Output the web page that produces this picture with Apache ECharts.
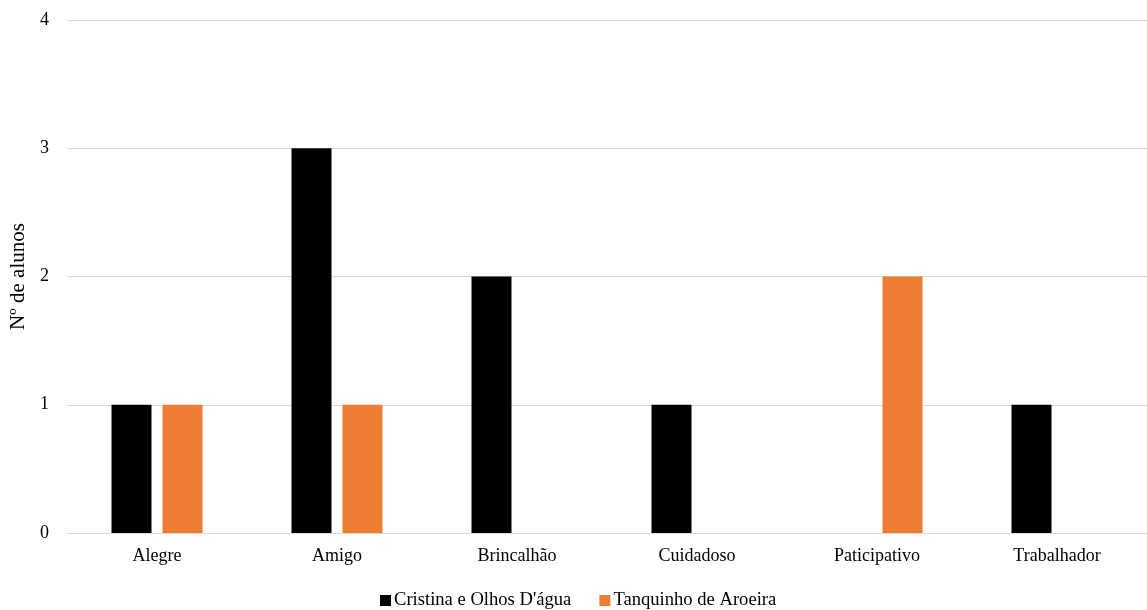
<!DOCTYPE html>
<html>
<head>
<meta charset="utf-8">
<style>
  html, body { margin: 0; padding: 0; background: #fff; }
  #chart { width: 1147px; height: 610px; }
</style>
<script src="https://cdn.jsdelivr.net/npm/echarts@6/dist/echarts.min.js"></script>
</head>
<body>
<div id="chart"></div>
<script>
// Characteristics named by the students, per school
const categories = ['Alegre', 'Amigo', 'Brincalhão', 'Cuidadoso', 'Paticipativo', 'Trabalhador'];
const cristinaOlhos = [1, 3, 2, 1, 0, 1];
const tanquinhoAroeira = [1, 1, 0, 0, 2, 0];
const seriesNames = ['Cristina e Olhos D\'água', 'Tanquinho de Aroeira'];

const FONT = '"Liberation Serif", "Times New Roman", serif';

const chart = echarts.init(document.getElementById('chart'));
chart.setOption({
  animation: false,
  textStyle: { fontFamily: FONT, color: '#000' },
  grid: { left: 67, right: 0, top: 20, bottom: 77, containLabel: false, outerBoundsMode: 'none' },
  legend: {
    top: 591,
    left: 375,
    padding: [0, 5],
    itemWidth: 11,
    itemHeight: 11,
    itemGap: 28,
    icon: 'rect',
    textStyle: { fontFamily: FONT, fontSize: 18.6, color: '#000', padding: [0, 0, 0, -2] },
    data: seriesNames
  },
  xAxis: {
    type: 'category',
    data: categories,
    axisLine: { lineStyle: { color: '#d9d9d9', width: 1 } },
    axisTick: { show: false },
    axisLabel: { fontFamily: FONT, fontSize: 18, color: '#000', margin: 14 }
  },
  yAxis: {
    type: 'value',
    min: 0,
    max: 4,
    interval: 1,
    name: 'Nº de alunos',
    nameLocation: 'middle',
    nameGap: 38,
    nameTextStyle: { fontFamily: FONT, fontSize: 21, color: '#000' },
    axisLine: { show: false },
    axisTick: { show: false },
    axisLabel: { fontFamily: FONT, fontSize: 18, color: '#000', margin: 18 },
    splitLine: { lineStyle: { color: '#d9d9d9', width: 1 } }
  },
  series: [
    {
      name: seriesNames[0],
      type: 'bar',
      data: cristinaOlhos,
      barWidth: 40,
      barGap: '27.5%',
      itemStyle: { color: '#000000' }
    },
    {
      name: seriesNames[1],
      type: 'bar',
      data: tanquinhoAroeira,
      barWidth: 40,
      itemStyle: { color: '#ED7D31' }
    }
  ]
});
</script>
</body>
</html>
